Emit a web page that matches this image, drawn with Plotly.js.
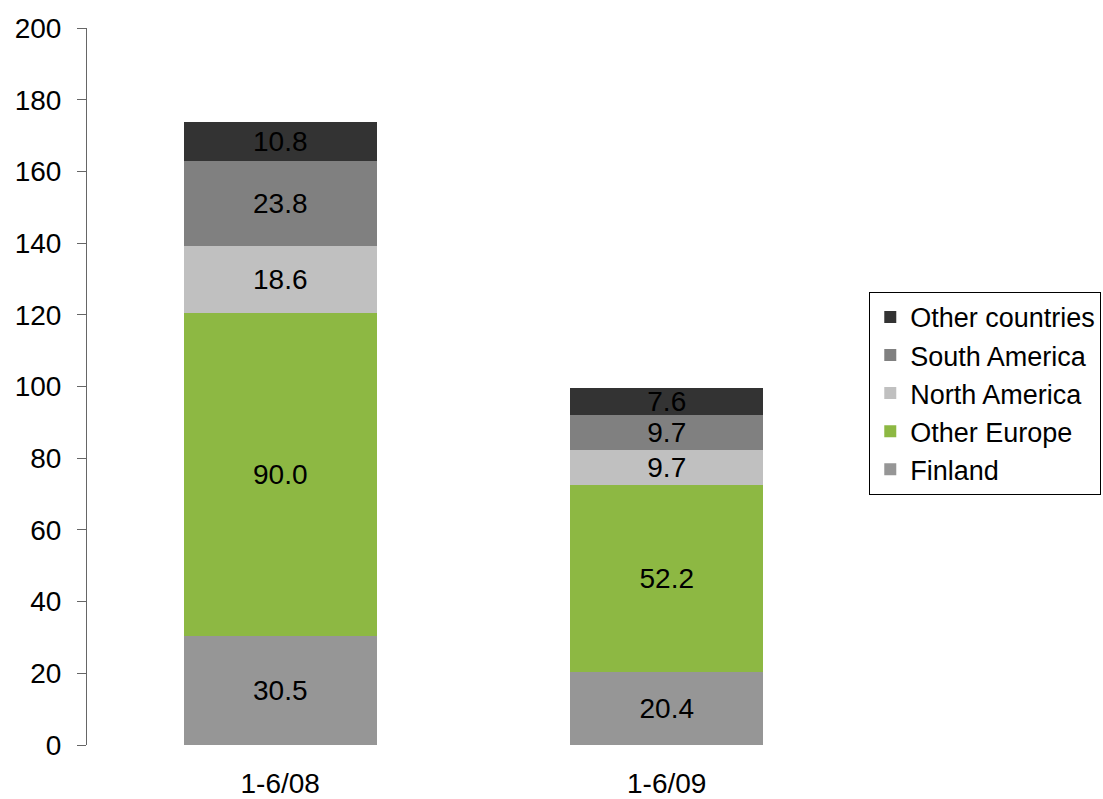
<!DOCTYPE html>
<html>
<head>
<meta charset="utf-8">
<script src="https://cdn.plot.ly/plotly-3.0.1.min.js"></script>
<style>html,body{margin:0;padding:0;background:#fff;}#chart{width:1103px;height:799px;}</style>
</head>
<body>
<div id="chart"></div>
<script>
const categories = ["1-6/08", "1-6/09"];
const seriesNames = ["Finland", "Other Europe", "North America", "South America", "Other countries"];
const finland = [30.5, 20.4];
const otherEurope = [90.0, 52.2];
const northAmerica = [18.6, 9.7];
const southAmerica = [23.8, 9.7];
const otherCountries = [10.8, 7.6];
const seriesValues = [finland, otherEurope, northAmerica, southAmerica, otherCountries];
const colors = ["#969696", "#8DB843", "#C0C0C0", "#808080", "#333333"];
const yTicks = [0, 20, 40, 60, 80, 100, 120, 140, 160, 180, 200];

const FONT = "Liberation Sans, Arial, sans-serif";
const traces = seriesNames.map((name, i) => ({
  type: "bar",
  name: name,
  x: categories,
  y: seriesValues[i],
  marker: {color: colors[i], line: {width: 0}},
  texttemplate: "%{y:.1f}",
  textposition: "inside",
  insidetextanchor: "middle",
  constraintext: "none",
  textfont: {family: FONT, size: 28, color: "#000"},
  hoverinfo: "skip"
}));

const layout = {
  width: 1103, height: 799,
  margin: {l: 87, r: 243, t: 28, b: 54, autoexpand: false},
  barmode: "stack",
  bargap: 0.5,
  paper_bgcolor: "#fff", plot_bgcolor: "#fff",
  font: {family: FONT, size: 28, color: "#000"},
  xaxis: {
    showline: false, ticks: "", showgrid: false, zeroline: false,
    tickfont: {family: FONT, size: 28, color: "#000"},
    ticklabelstandoff: 19
  },
  yaxis: {
    range: [0, 200], tickvals: yTicks, ticktext: yTicks.map(String),
    showline: true, linecolor: "#666666", linewidth: 1,
    ticks: "outside", ticklen: 9, tickcolor: "#666666", tickwidth: 1,
    showgrid: false, zeroline: false,
    tickfont: {family: FONT, size: 28, color: "#000"},
    ticklabelstandoff: 10
  },
  legend: {
    x: 1.012, y: 0.632, xanchor: "left", yanchor: "top",
    traceorder: "reversed",
    bordercolor: "#000", borderwidth: 1, bgcolor: "#fff",
    font: {family: FONT, size: 27, color: "#000"},
    itemwidth: 30
  },
  showlegend: true
};

Plotly.newPlot("chart", traces, layout, {staticPlot: true});
</script>
</body>
</html>
